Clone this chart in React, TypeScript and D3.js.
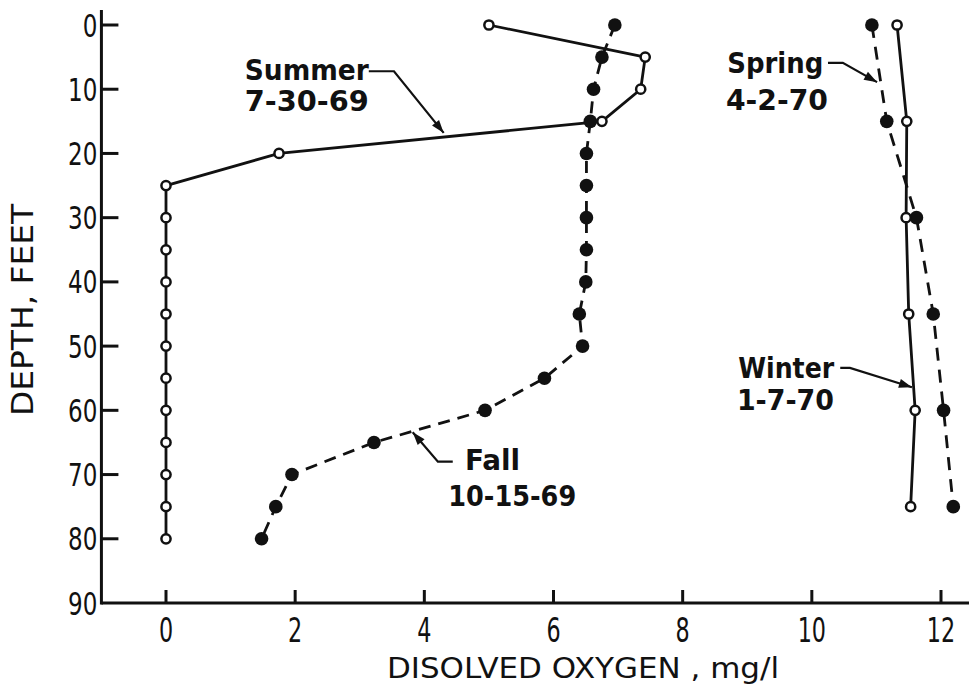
import React, { useEffect, useRef } from 'react'
import * as d3 from 'd3'

// depth (ft) vs dissolved oxygen (mg/l)
const summerDepth = [0, 5, 10, 15, 20, 25, 30, 35, 40, 45, 50, 55, 60, 65, 70, 75, 80]
const summerDO = [5.0, 7.42, 7.35, 6.75, 1.75, 0, 0, 0, 0, 0, 0, 0, 0, 0, 0, 0, 0]

const fallDepth = [0, 5, 10, 15, 20, 25, 30, 35, 40, 45, 50, 55, 60, 65, 70, 75, 80]
const fallDO = [6.95, 6.75, 6.62, 6.57, 6.51, 6.51, 6.51, 6.51, 6.5, 6.4, 6.45, 5.86, 4.94, 3.22, 1.95, 1.7, 1.48]

const springDepth = [0, 15, 30, 45, 60, 75]
const springDO = [10.93, 11.16, 11.62, 11.88, 12.04, 12.19]

const winterDepth = [0, 15, 30, 45, 60, 75]
const winterDO = [11.32, 11.47, 11.46, 11.5, 11.6, 11.53]

const xTicks = [0, 2, 4, 6, 8, 10, 12]
const yTicks = [0, 10, 20, 30, 40, 50, 60, 70, 80, 90]

const xTitle = 'DISOLVED OXYGEN , mg/l'
const yTitle = 'DEPTH, FEET'

// annotation text + leader, in data units (mg/l, ft)
const labels = [
  { lines: ['Summer', '7-30-69'], xs: [1.22, 1.22], ys: [7.0, 11.8], leader: [[3.14, 7.2], [3.53, 7.2], [4.3, 16.8]] },
  { lines: ['Fall', '10-15-69'], xs: [4.63, 4.37], ys: [67.7, 73.4], leader: [[4.44, 68.0], [4.21, 68.0], [3.82, 63.4]] },
  { lines: ['Spring', '4-2-70'], xs: [8.69, 8.67], ys: [5.9, 11.7], leader: [[10.25, 5.9], [10.48, 5.9], [11.01, 8.9]] },
  { lines: ['Winter', '1-7-70'], xs: [8.86, 8.84], ys: [53.4, 58.4], leader: [[10.44, 53.4], [10.59, 53.4], [11.55, 56.4]] },
]
const labelWidths: Record<string, number> = {
  'Summer': 124, '7-30-69': 124, 'Fall': 55, '10-15-69': 128,
  'Spring': 96, '4-2-70': 102, 'Winter': 96, '1-7-70': 97,
}

const width = 969
const height = 692
const font = "'DejaVu Sans Condensed', 'DejaVu Sans', sans-serif"

export default function App() {
  const ref = useRef(null)

  useEffect(() => {
    const svg = d3.select(ref.current)
    svg.selectAll('*').remove()

    const x = d3.scaleLinear().domain([0, 12]).range([166, 941])
    const y = d3.scaleLinear().domain([0, 90]).range([25, 603])
    const ink = '#111'

    const g = svg.append('g')

    // axes
    const x0 = x(-1.0)
    g.append('line').attr('x1', x0).attr('x2', width).attr('y1', y(90)).attr('y2', y(90))
      .attr('stroke', ink).attr('stroke-width', 3)
    g.append('line').attr('x1', x0).attr('x2', x0).attr('y1', 10).attr('y2', y(90) + 1.5)
      .attr('stroke', ink).attr('stroke-width', 3)

    g.selectAll('.ytick').data(yTicks.filter(d => d < 90)).enter().append('line')
      .attr('x1', x0).attr('x2', x0 + 17).attr('y1', d => y(d)).attr('y2', d => y(d))
      .attr('stroke', ink).attr('stroke-width', 3)
    g.selectAll('.xtick').data(xTicks).enter().append('line')
      .attr('x1', d => x(d)).attr('x2', d => x(d)).attr('y1', y(90)).attr('y2', y(90) - 13)
      .attr('stroke', ink).attr('stroke-width', 3)

    g.selectAll('.ylab').data(yTicks).enter().append('text')
      .attr('transform', d => `translate(${x0 - 4},${y(d)}) scale(0.8,1)`).attr('dy', '0.36em')
      .attr('text-anchor', 'end').attr('font-family', font).attr('font-size', 32)
      .attr('fill', ink)
      .text(d => d)
    g.selectAll('.xlab').data(xTicks).enter().append('text')
      .attr('transform', d => `translate(${x(d)},${y(90) + 27}) scale(0.75,1)`).attr('dy', '0.36em')
      .attr('text-anchor', 'middle').attr('font-family', font).attr('font-size', 33)
      .attr('fill', ink)
      .text(d => d)

    g.append('text').attr('x', 583).attr('y', 668).attr('dy', '0.36em')
      .attr('text-anchor', 'middle').attr('font-family', font).attr('font-size', 29)
      .attr('textLength', 392).attr('lengthAdjust', 'spacingAndGlyphs')
      .attr('fill', ink).text(xTitle)
    g.append('text').attr('transform', 'translate(22,310) rotate(-90)').attr('dy', '0.36em')
      .attr('text-anchor', 'middle').attr('font-family', font).attr('font-size', 31)
      .attr('textLength', 212).attr('lengthAdjust', 'spacingAndGlyphs')
      .attr('fill', ink).text(yTitle)

    // series
    const series = [
      { depth: summerDepth, value: summerDO, dash: null, open: true },
      { depth: fallDepth, value: fallDO, dash: '12 8', open: false },
      { depth: springDepth, value: springDO, dash: '13 9', open: false },
      { depth: winterDepth, value: winterDO, dash: null, open: true },
    ]
    const line = d3.line<number[]>().x(d => x(d[0])).y(d => y(d[1]))

    series.forEach(s => {
      const pts = s.value.map((v, i) => [v, s.depth[i]])
      g.append('path').attr('d', line(pts)).attr('fill', 'none')
        .attr('stroke', ink).attr('stroke-width', 2.8)
        .attr('stroke-dasharray', s.dash)
    })
    series.forEach(s => {
      const pts = s.value.map((v, i) => [v, s.depth[i]])
      g.append('g').selectAll('circle').data(pts).enter().append('circle')
        .attr('cx', d => x(d[0])).attr('cy', d => y(d[1]))
        .attr('r', s.open ? 4.6 : 6.8)
        .attr('fill', s.open ? '#fff' : ink)
        .attr('stroke', ink).attr('stroke-width', s.open ? 2.5 : 0)
    })

    // annotations
    labels.forEach(l => {
      l.lines.forEach((t, i) => {
        g.append('text').attr('x', x(l.xs[i])).attr('y', y(l.ys[i])).attr('dy', '0.36em')
          .attr('font-family', font).attr('font-size', 28).attr('font-weight', 'bold')
          .attr('textLength', labelWidths[t]).attr('lengthAdjust', 'spacingAndGlyphs')
          .attr('fill', ink).text(t)
      })
      const pts = l.leader.map(p => [x(p[0]), y(p[1])])
      g.append('path').attr('d', d3.line()(pts as [number, number][]))
        .attr('fill', 'none').attr('stroke', ink).attr('stroke-width', 2.2)
      const a = pts[pts.length - 1], b = pts[pts.length - 2]
      const ang = Math.atan2(a[1] - b[1], a[0] - b[0])
      const len = 13, half = 4.5
      const p1 = [a[0] - len * Math.cos(ang) + half * Math.sin(ang), a[1] - len * Math.sin(ang) - half * Math.cos(ang)]
      const p2 = [a[0] - len * Math.cos(ang) - half * Math.sin(ang), a[1] - len * Math.sin(ang) + half * Math.cos(ang)]
      g.append('path').attr('d', `M${a[0]},${a[1]}L${p1[0]},${p1[1]}L${p2[0]},${p2[1]}Z`).attr('fill', ink)
    })
  }, [])

  return (
    <svg ref={ref} width={width} height={height}
      style={{ position: 'absolute', left: 0, top: 0, background: '#fff' }} />
  )
}
